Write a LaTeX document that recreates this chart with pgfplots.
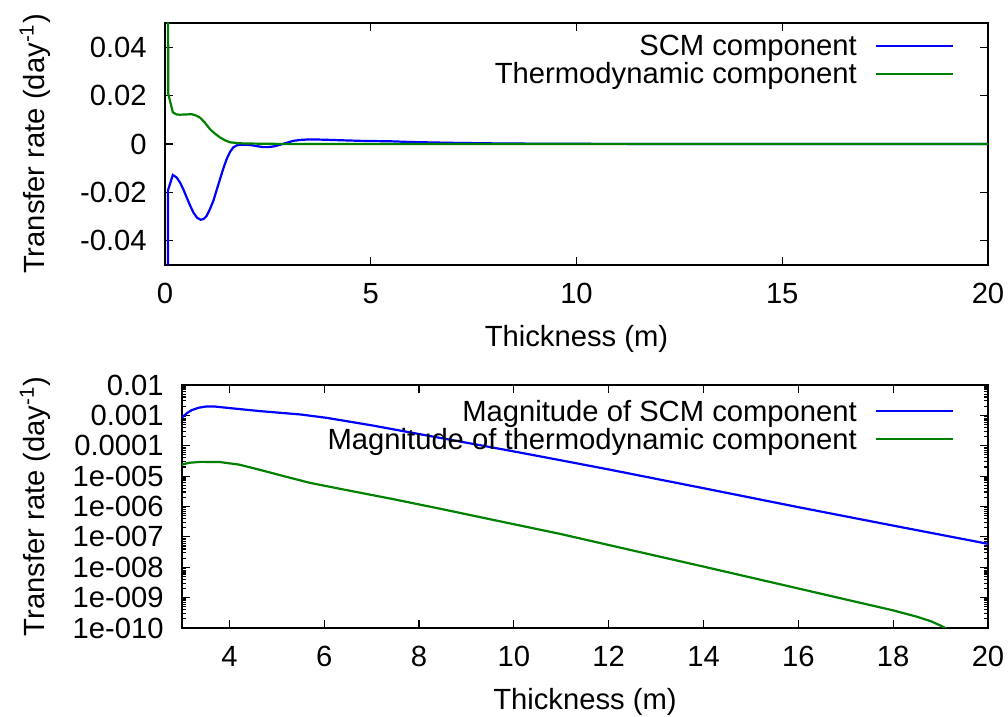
\documentclass[border=0pt]{standalone}
\usepackage{fontspec}
\setmainfont{Liberation Sans}
\usepackage{pgfplots}
\pgfplotsset{compat=1.18}
\definecolor{gblue}{RGB}{0,0,255}
\definecolor{ggreen}{RGB}{0,128,0}

\pgfplotsset{
  myaxis/.style={
    scale only axis,
    font=\fontsize{14.6}{17}\selectfont,
    axis line style={line width=0.7pt},
    tick style={line width=0.6pt, black},
    major tick length=4pt,
    minor tick length=2.2pt,
    tick align=inside,
    xticklabel style={anchor=north, inner sep=0pt, yshift=-9pt},
    yticklabel style={anchor=east, inner sep=0pt, xshift=-9pt},
    legend cell align=right,
    legend plot pos=right,
    legend image code/.code={\draw[#1,line width=1.1pt] (0pt,2pt) -- (38.5pt,2pt);},
    legend style={draw=none, fill=none, inner sep=0pt, outer sep=0pt,
      row sep=0pt, column sep=9pt, anchor=north east,
      font=\fontsize{14.6}{17}\selectfont,
      nodes={inner sep=0pt, text height=10pt, text depth=4pt}},
    xlabel={Thickness (m)},
    ylabel={Transfer rate (day\textsuperscript{-1})},
    xlabel style={at={(rel axis cs:0.5,0)}, anchor=center, yshift=-37pt},
    every axis plot/.append style={line width=1.1pt},
  }
}

\begin{document}
\begin{tikzpicture}
\path[use as bounding box] (0pt,0pt) rectangle (504pt,358.5pt);

% ---------------- top panel ----------------
\begin{axis}[myaxis,
  at={(82.5pt,226pt)}, anchor=south west,
  width=411.5pt, height=121pt,
  xmin=0, xmax=20, ymin=-0.05, ymax=0.05,
  xtick={0,5,10,15,20}, xticklabels={0,5,10,15,20},
  ytick={-0.04,-0.02,0,0.02,0.04},
  yticklabels={-0.04,-0.02,0,0.02,0.04},
  scaled y ticks=false,
  ylabel style={at={(rel axis cs:-0.158,0.5)}, anchor=center},
  legend style={at={(rel axis cs:0.9587,0.9465)}},
]
\addplot[gblue] coordinates {
(0.05,-0.2) (0.075,-0.019) (0.19,-0.0128) (0.28,-0.0138) (0.365,-0.0159)
(0.447,-0.0188) (0.527,-0.0221) (0.61,-0.0254) (0.689,-0.0283) (0.78,-0.0305)
(0.867,-0.0313) (0.94,-0.0310) (1.013,-0.0297) (1.09,-0.0270) (1.175,-0.0235)
(1.256,-0.0190) (1.337,-0.0145) (1.42,-0.0100) (1.499,-0.0062) (1.58,-0.0033)
(1.66,-0.0014) (1.74,-0.0006) (1.82,-0.0003) (2.06,-0.0004) (2.2,-0.0008)
(2.39,-0.0013) (2.5,-0.0013) (2.64,-0.0010) (2.76,-0.0005) (2.88,0.0001)
(3.0,0.0007) (3.12,0.0013) (3.3,0.0017) (3.52,0.0019) (3.8,0.0018)
(4.17,0.0016) (4.74,0.0013) (5.5,0.0011) (6,0.0008) (7,0.00047)
(8,0.00025) (9,0.00013) (10,0.000065) (12,0.000017) (14,0.000004) (20,0.00000006)
};
\addlegendentry{SCM component}
\addplot[ggreen] coordinates {
(0.05,0.2) (0.08,0.0207) (0.19,0.0131) (0.28,0.0122) (0.365,0.0121)
(0.5,0.0122) (0.648,0.0123) (0.75,0.0118) (0.85,0.0109) (0.97,0.0088)
(1.094,0.0061) (1.22,0.0042) (1.337,0.0027) (1.46,0.0015) (1.58,0.0007)
(1.8,0.0003) (1.99,0.0002) (2.4,0.0001) (2.72,0.00005) (3,0.000024)
(4,0.000029) (5,0.0000093) (8,0.0000008) (20,0)
};
\addlegendentry{Thermodynamic component}
\end{axis}

% ---------------- bottom panel ----------------
\begin{axis}[myaxis,
  at={(91pt,44.5pt)}, anchor=south west,
  width=403pt, height=121.5pt,
  ymode=log,
  xmin=3, xmax=20, ymin=1e-10, ymax=1e-2,
  xtick={4,6,8,10,12,14,16,18,20},
  xticklabels={4,6,8,10,12,14,16,18,20},
  ytick={1e-10,1e-9,1e-8,1e-7,1e-6,1e-5,1e-4,1e-3,1e-2},
  yticklabels={1e-010,1e-009,1e-008,1e-007,1e-006,1e-005,0.0001,0.001,0.01},
  minor ytick={2e-10,3e-10,4e-10,5e-10,6e-10,7e-10,8e-10,9e-10,
               2e-9,3e-9,4e-9,5e-9,6e-9,7e-9,8e-9,9e-9,
               2e-8,3e-8,4e-8,5e-8,6e-8,7e-8,8e-8,9e-8,
               2e-7,3e-7,4e-7,5e-7,6e-7,7e-7,8e-7,9e-7,
               2e-6,3e-6,4e-6,5e-6,6e-6,7e-6,8e-6,9e-6,
               2e-5,3e-5,4e-5,5e-5,6e-5,7e-5,8e-5,9e-5,
               2e-4,3e-4,4e-4,5e-4,6e-4,7e-4,8e-4,9e-4,
               2e-3,3e-3,4e-3,5e-3,6e-3,7e-3,8e-3,9e-3},
  ylabel style={at={(rel axis cs:-0.1824,0.5)}, anchor=center},
  legend style={at={(rel axis cs:0.9578,0.934)}},
]
\addplot[gblue] coordinates {
(3.0,8.5e-4) (3.1,1.17e-3) (3.2,1.48e-3) (3.35,1.78e-3) (3.5,1.95e-3)
(3.7,1.95e-3) (4.0,1.74e-3) (4.65,1.38e-3) (5.5,1.07e-3) (6.05,8.3e-4)
(7.0,4.7e-4) (7.81,2.75e-4) (9,1.26e-4) (10,6.5e-5) (11,3.3e-5)
(12,1.66e-5) (14,4.0e-6) (16,9.5e-7) (18,2.35e-7) (20,5.9e-8)
};
\addlegendentry{Magnitude of SCM component}
\addplot[ggreen] coordinates {
(3.0,2.4e-5) (3.15,2.75e-5) (3.4,2.95e-5) (3.8,2.9e-5) (4.2,2.4e-5)
(4.65,1.6e-5) (5.2,9.5e-6) (5.7,6.0e-6) (6.5,3.4e-6) (7.46,1.74e-6)
(8.5,8.1e-7) (9.5,3.8e-7) (11,1.23e-7) (12,5.4e-8) (14,1.05e-8)
(16,2.0e-9) (17,8.7e-10) (18,3.8e-10) (18.5,2.35e-10) (18.8,1.66e-10)
(19.0,1.2e-10) (19.2,8.3e-11) (19.35,5e-11)
};
\addlegendentry{Magnitude of thermodynamic component}
\end{axis}
\end{tikzpicture}
\end{document}
